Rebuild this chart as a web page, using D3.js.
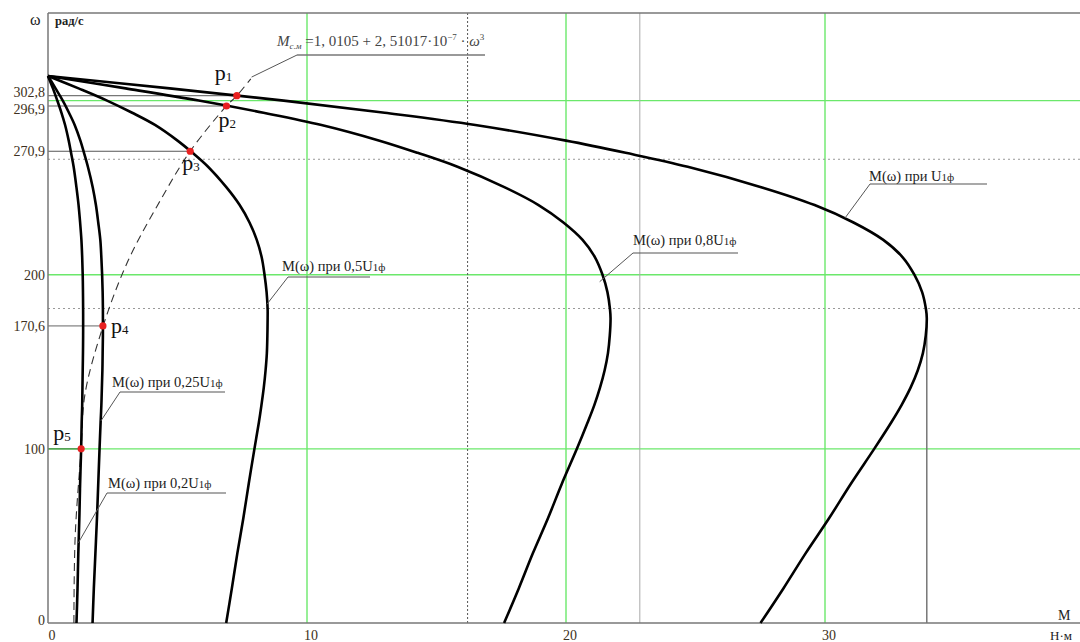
<!DOCTYPE html>
<html>
<head>
<meta charset="utf-8">
<script src="https://cdn.jsdelivr.net/npm/d3@7"></script>
<style>
  body { margin: 0; background: #fff; }
  svg { display: block; font-family: "Liberation Serif", "DejaVu Serif", serif; }
</style>
</head>
<body>
<svg id="chart" width="1080" height="642"></svg>
<script>
// механические характеристики M(ω), значения сняты с графика
// ω, рад/с
const omega = [314.16, 307, 300, 293, 286, 277, 270, 262, 250, 240, 230, 220, 210, 200, 190, 180, 175,
  165, 155, 145, 135, 125, 115, 100, 80, 60, 40, 20, 0];
// M, Н·м при U1ф
const mU1 = [0, 4.7, 9.1, 13.0, 16.5, 20.0, 22.3, 24.7, 27.6, 29.6, 31.1, 32.25, 33.0, 33.45, 33.75, 33.9, 33.93,
  33.89, 33.78, 33.58, 33.3, 32.95, 32.55, 31.9, 31.0, 30.15, 29.25, 28.4, 27.51];
// при 0,8U1ф
const m08 = [0, 3.0, 5.82, 8.32, 10.56, 12.8, 14.27, 15.81, 17.66, 18.94, 19.9, 20.64, 21.12, 21.41, 21.6, 21.7, 21.72,
  21.69, 21.62, 21.49, 21.31, 21.09, 20.83, 20.42, 19.84, 19.3, 18.72, 18.18, 17.61];
// при 0,5U1ф
const m05 = [0, 1.18, 2.28, 3.25, 4.13, 5.0, 5.58, 6.18, 6.9, 7.4, 7.78, 8.06, 8.25, 8.36, 8.44, 8.48, 8.48,
  8.47, 8.45, 8.4, 8.33, 8.24, 8.14, 7.97, 7.75, 7.54, 7.31, 7.1, 6.88];
// при 0,25U1ф
const m025 = [0, 0.29, 0.57, 0.81, 1.03, 1.25, 1.39, 1.54, 1.73, 1.85, 1.94, 2.02, 2.06, 2.09, 2.11, 2.12, 2.12,
  2.12, 2.11, 2.1, 2.08, 2.06, 2.03, 1.99, 1.94, 1.89, 1.83, 1.77, 1.72];
// при 0,2U1ф
const m02 = [0, 0.19, 0.36, 0.52, 0.66, 0.8, 0.89, 0.99, 1.1, 1.18, 1.24, 1.29, 1.32, 1.34, 1.35, 1.356, 1.357,
  1.356, 1.35, 1.34, 1.33, 1.32, 1.3, 1.28, 1.24, 1.21, 1.17, 1.14, 1.1];

// момент сопротивления Mсм(ω)
const loadW = [0, 50, 100, 131.6, 170.6, 208, 242.5, 270.9, 296.9, 302.8, 312.5];
const loadM = [1.0, 1.05, 1.28, 1.43, 2.13, 3.09, 4.33, 5.49, 6.89, 7.29, 7.83];

// рабочие точки
const pointNames = ['1', '2', '3', '4', '5'];
const pointM = [7.29, 6.89, 5.49, 2.12, 1.28];
const pointW = [302.8, 296.9, 270.9, 170.6, 100];

const xTicks = [0, 10, 20, 30];
const yTicks = [0, 100, 200];
const yMarks = [302.8, 296.9, 270.9, 170.6];
const gridX = [10, 20, 30];
const gridY = [100, 200, 300];
const cursorX = [16.2];
const cursorY = [266.3, 180.6];
const grayX = [22.85];
const maxU1 = [33.93, 175];

const curveNames = ['', '0,8', '0,5', '0,25', '0,2'];

const svg = d3.select('#chart');
const x = d3.scaleLinear().domain([0, 40]).range([48, 1084]);
const y = d3.scaleLinear().domain([0, 350.3]).range([623, 13]);
const x0 = x(0), y0 = y(0), yTop = 13, xEnd = 1080;

const fmt = v => String(v).replace('.', ',');

// сетка
svg.selectAll('.gx').data(gridX).enter().append('line')
  .attr('x1', d => x(d)).attr('x2', d => x(d)).attr('y1', yTop).attr('y2', y0)
  .attr('stroke', '#6be86b').attr('stroke-width', 1.4);
svg.selectAll('.gy').data(gridY).enter().append('line')
  .attr('x1', x0).attr('x2', xEnd).attr('y1', d => y(d)).attr('y2', d => y(d))
  .attr('stroke', '#6be86b').attr('stroke-width', 1.4);

svg.selectAll('.grx').data(grayX).enter().append('line')
  .attr('x1', d => x(d)).attr('x2', d => x(d)).attr('y1', yTop).attr('y2', y0)
  .attr('stroke', '#aaa').attr('stroke-width', 1);

// пунктир трассировки
svg.selectAll('.cx').data(cursorX).enter().append('line')
  .attr('x1', d => x(d)).attr('x2', d => x(d)).attr('y1', yTop).attr('y2', y0)
  .attr('stroke', '#555').attr('stroke-width', 1).attr('stroke-dasharray', '2,2');
svg.selectAll('.cy').data(cursorY).enter().append('line')
  .attr('x1', x0).attr('x2', xEnd).attr('y1', d => y(d)).attr('y2', d => y(d))
  .attr('stroke', '#999').attr('stroke-width', 1).attr('stroke-dasharray', '2,3');

// линии от оси к точкам
const markStroke = ['#555', '#b0b0b0', '#555', '#666', '#3f8a3f'];
const markWidth = [1, 2, 1, 1, 1.4];
svg.selectAll('.pl').data(pointW).enter().append('line')
  .attr('x1', x0).attr('x2', (d, i) => x(pointM[i]))
  .attr('y1', d => y(d)).attr('y2', d => y(d))
  .attr('stroke', (d, i) => markStroke[i]).attr('stroke-width', (d, i) => markWidth[i]);

// линия от максимума
svg.append('line')
  .attr('x1', x(maxU1[0])).attr('x2', x(maxU1[0])).attr('y1', y(maxU1[1])).attr('y2', y0)
  .attr('stroke', '#777').attr('stroke-width', 1.5);

// оси
svg.append('line').attr('x1', x0).attr('x2', x0).attr('y1', yTop).attr('y2', y0)
  .attr('stroke', '#777').attr('stroke-width', 1.5);
svg.append('line').attr('x1', x0).attr('x2', xEnd).attr('y1', yTop).attr('y2', yTop)
  .attr('stroke', '#777').attr('stroke-width', 1.5);
svg.append('line').attr('x1', x0).attr('x2', xEnd).attr('y1', y0).attr('y2', y0)
  .attr('stroke', '#777').attr('stroke-width', 1.5);

const line = d3.line()
  .x(d => x(d[0]))
  .y(d => y(d[1]))
  .curve(d3.curveCatmullRom.alpha(0.5));

// кривая нагрузки
svg.append('path').attr('d', line(loadW.map((w, i) => [loadM[i], w])))
  .attr('fill', 'none').attr('stroke', '#333').attr('stroke-width', 1.1)
  .attr('stroke-dasharray', '8,5');

// характеристики
[mU1, m08, m05, m025, m02].forEach(m => {
  svg.append('path').attr('d', line(omega.map((w, i) => [m[i], w])))
    .attr('fill', 'none').attr('stroke', '#000').attr('stroke-width', 2.6)
    .attr('stroke-linejoin', 'round');
});

// точки
svg.selectAll('.pt').data(pointW).enter().append('circle')
  .attr('cx', (d, i) => x(pointM[i])).attr('cy', d => y(d)).attr('r', 3.6)
  .attr('fill', '#e82020');

const pOffsets = [[-22, -16], [-8, 21], [-8, 19], [8, 7], [-28, -9]];
pointNames.forEach((n, i) => {
  const t = svg.append('text')
    .attr('x', x(pointM[i]) + pOffsets[i][0]).attr('y', y(pointW[i]) + pOffsets[i][1])
    .attr('font-size', 22).attr('fill', '#111');
  t.append('tspan').text('p');
  t.append('tspan').text(n).attr('font-size', 13).attr('dy', 1);
});

// подписи оси X
svg.selectAll('.xt').data(xTicks).enter().append('text')
  .attr('x', d => x(d) + 4).attr('y', 640).attr('text-anchor', 'middle')
  .attr('font-size', 14).attr('fill', '#3d3020').text(d => d);

// подписи оси Y
svg.selectAll('.yt').data(yTicks).enter().append('text')
  .attr('x', 45).attr('y', d => y(d)).attr('dy', d => d === 0 ? '0.15em' : '0.35em')
  .attr('text-anchor', 'end').attr('font-size', 14).attr('fill', '#3d3020').text(d => d);
const markDy = [-4, 3, 0, 0];
svg.selectAll('.ym').data(yMarks).enter().append('text')
  .attr('x', 45).attr('y', (d, i) => y(d) + markDy[i]).attr('dy', '0.35em')
  .attr('text-anchor', 'end').attr('font-size', 14).attr('fill', '#3d3020').text(d => fmt(d));

svg.append('text').attr('x', 30).attr('y', 25).attr('font-size', 16).attr('fill', '#222').text('ω');
svg.append('text').attr('x', 55).attr('y', 25).attr('font-size', 12.5).attr('font-weight', 'bold')
  .attr('fill', '#222').text('рад/с');
svg.append('text').attr('x', 1058).attr('y', 620).attr('font-size', 14).attr('fill', '#222').text('M');
svg.append('text').attr('x', 1050).attr('y', 640).attr('font-size', 13).attr('fill', '#222').text('Н·м');

// выноски
function callout(tx, ty, ux1, ux2, uy, px, py, name) {
  svg.append('line').attr('x1', ux1).attr('x2', ux2).attr('y1', uy).attr('y2', uy)
    .attr('stroke', '#555').attr('stroke-width', 1.2);
  svg.append('line').attr('x1', ux1).attr('x2', px).attr('y1', uy).attr('y2', py)
    .attr('stroke', '#555').attr('stroke-width', 1);
  const t = svg.append('text').attr('x', tx).attr('y', ty).attr('font-size', 14.5).attr('fill', '#222');
  t.append('tspan').text('M(ω) при ' + name + 'U');
  t.append('tspan').text('1ф').attr('font-size', 11);
}
callout(869, 181, 870, 987, 184, 845, 218, curveNames[0]);
callout(633, 245, 633, 738, 253, x(21.3), y(196), curveNames[1]);
callout(282, 271, 288, 370, 277, x(8.45), y(183), curveNames[2]);
callout(112, 387, 120, 225, 392, x(2.04), y(116), curveNames[3]);
callout(108, 488, 107, 226, 493, x(1.17), y(46), curveNames[4]);

// формула Mсм
svg.append('line').attr('x1', 297).attr('x2', 485).attr('y1', 55).attr('y2', 55)
  .attr('stroke', '#777').attr('stroke-width', 1.5);
svg.append('line').attr('x1', 297).attr('x2', x(7.86)).attr('y1', 55).attr('y2', y(313.5))
  .attr('stroke', '#555').attr('stroke-width', 1);
const f = svg.append('text').attr('x', 277).attr('y', 46).attr('font-size', 15).attr('fill', '#444');
f.append('tspan').text('M').attr('font-style', 'italic');
f.append('tspan').text('с.м').attr('font-style', 'italic').attr('font-size', 9).attr('dy', 3);
f.append('tspan').text(' =1, 0105 + 2, 51017·10').attr('dy', -3);
f.append('tspan').text('−7').attr('font-size', 9).attr('dy', -6);
f.append('tspan').text(' · ').attr('dy', 6);
f.append('tspan').text('ω').attr('font-style', 'italic');
f.append('tspan').text('3').attr('font-size', 9).attr('dy', -6);
</script>
</body>
</html>
